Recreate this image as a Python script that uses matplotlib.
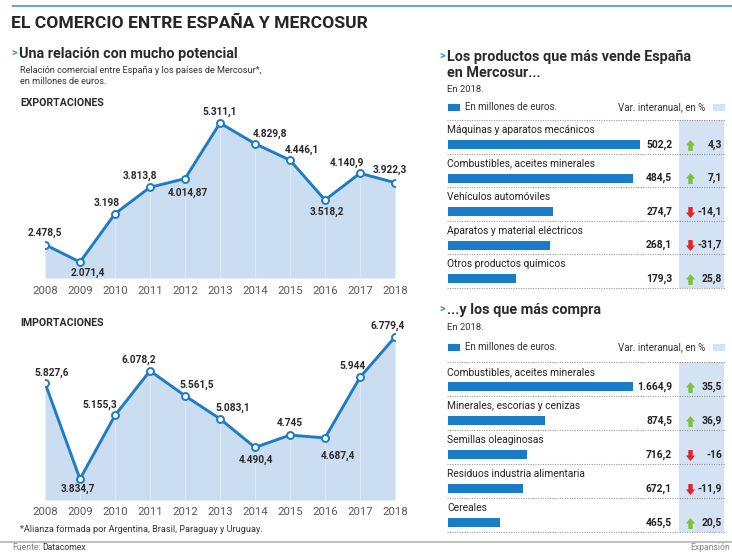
import matplotlib
matplotlib.use("Agg")
import matplotlib.pyplot as plt
from matplotlib import font_manager as fm
from matplotlib.font_manager import FontProperties
from matplotlib.textpath import TextToPath
from matplotlib.path import Path
from matplotlib.transforms import blended_transform_factory

# ---------------------------------------------------------------- data
years = [2008, 2009, 2010, 2011, 2012, 2013, 2014, 2015, 2016, 2017, 2018]
exportaciones = [2478.5, 2071.4, 3198, 3813.8, 4014.87, 5311.1, 4829.8,
                 4446.1, 3518.2, 4140.9, 3922.3]
importaciones = [5827.6, 3834.7, 5155.3, 6078.2, 5561.5, 5083.1, 4490.4,
                 4745, 4687.4, 5944, 6779.4]

vende_cats = ["Máquinas y aparatos mecánicos", "Combustibles, aceites minerales",
              "Vehículos automóviles", "Aparatos y material eléctricos",
              "Otros productos químicos"]
vende_vals = [502.2, 484.5, 274.7, 268.1, 179.3]
vende_var = [4.3, 7.1, -14.1, -31.7, 25.8]

compra_cats = ["Combustibles, aceites minerales", "Minerales, escorias y cenizas",
               "Semillas oleaginosas", "Residuos industria alimentaria", "Cereales"]
compra_vals = [1664.9, 874.5, 716.2, 672.1, 465.5]
compra_var = [35.5, 36.9, -16, -11.9, 20.5]

# ---------------------------------------------------------------- fonts
W, H = 732, 553
_names = {f.name for f in fm.fontManager.ttflist}
FAMILY = "Roboto" if "Roboto" in _names else "DejaVu Sans"
FONT = dict(family=[FAMILY, "DejaVu Sans"])
_t2p = TextToPath()


def width_px(s, size, weight="normal"):
    prop = FontProperties(family=FONT["family"], weight=weight, size=size)
    w, _, _ = _t2p.get_text_width_height_descent(s, prop, ismath=False)
    return w * 100 / 72


INK = "#222222"
LINE_BLUE = "#1f7cc2"
FILL_BLUE = "#cbddf1"
BAR_BLUE = "#1a7bc7"
HILITE = "#d3e3f4"
ACCENT = "#2b93dc"
UP_GREEN = "#7cc142"
DOWN_RED = "#e42228"

SZ_TITLE = 12.6
SZ_HEAD = 10.4
SZ_SUB = 6.6
SZ_SECTION = 7.6
SZ_POINT = 7.3
SZ_YEAR = 8.2
SZ_FOOT = 6.6
SZ_SRC = 6.2
SZ_CAT = 7.4
SZ_VAL = 7.4
SZ_LEG = 7.0
SZ_EN = 6.8


def es(v):
    """Spanish number format: '.' thousands, ',' decimals."""
    s = f"{v:,}"
    return s.replace(",", "#").replace(".", ",").replace("#", ".")


fig = plt.figure(figsize=(W / 100, H / 100), dpi=100)
fig.patch.set_facecolor("white")

canvas = fig.add_axes([0, 0, 1, 1])
canvas.set_xlim(0, W)
canvas.set_ylim(H, 0)
canvas.axis("off")


def px_axes(left, top, right, bottom):
    ax = fig.add_axes([left / W, 1 - bottom / H, (right - left) / W, (bottom - top) / H])
    ax.patch.set_alpha(0)
    for sp in ax.spines.values():
        sp.set_visible(False)
    return ax


def T(x, y, s, size=8, weight="normal", color=INK, ha="left", va="center", ax=None, **kw):
    (ax or canvas).text(x, y, s, fontsize=size, fontweight=weight, color=color,
                        ha=ha, va=va, **FONT, **kw)


# ---------------------------------------------------------------- header
canvas.plot([12, W], [6, 6], color="#5aa8e2", lw=1.4, solid_capstyle="butt")
T(11, 23, "EL COMERCIO ENTRE ESPAÑA Y MERCOSUR", size=SZ_TITLE, weight="bold", color="#262626")

T(17, 53, ">", size=SZ_HEAD * 0.75, weight="bold", color=ACCENT, ha="right")
T(19, 54, "Una relación con mucho potencial", size=SZ_HEAD, weight="bold", color="#2a2a2a")
T(20, 70, "Relación comercial entre España y los países de Mercosur*,", size=SZ_SUB, color="#333333")
T(20, 82, "en millones de euros.", size=SZ_SUB, color="#333333")


# ---------------------------------------------------------------- line charts
def line_chart(left, top, right, bottom, ylim, values, offsets, title, title_y, pad):
    T(20, title_y, title, size=SZ_SECTION, weight="bold", color="#2a2a2a")
    ax = px_axes(left, top, right, bottom)
    ax.set_xlim(years[0], years[-1])
    ax.set_ylim(*ylim)
    ax.fill_between(years, ylim[0], values, color=FILL_BLUE, lw=0, zorder=1)
    ax.vlines(years[1:-1], ylim[0], values[1:-1], color="white", lw=1.0, alpha=0.3, zorder=2)
    ax.plot(years, values, color=LINE_BLUE, lw=2.1, zorder=3)
    ax.plot(years, values, ls="none", marker="o", ms=5, mfc="white", mec=LINE_BLUE,
            mew=1.4, zorder=4)
    for x, v, (dx, dy) in zip(years, values, offsets):
        ax.annotate(es(v), (x, v), xytext=(dx, -dy), textcoords="offset pixels",
                    ha="center", va="center", fontsize=SZ_POINT, fontweight="bold",
                    color="#2a2a2a", zorder=5, **FONT)
    ax.set_xticks(years)
    ax.set_xticklabels([str(y) for y in years], fontsize=SZ_YEAR, color="#5a5a5a", **FONT)
    ax.tick_params(axis="x", length=0, pad=pad)
    ax.set_yticks([])
    return ax


exp_offsets = [(0, -12), (8, 11), (-8, -11), (-10, -11), (3, 14), (0, -11.5),
               (15, -10), (12, -10), (2, 12), (-13, -10.5), (-5, -13)]
imp_offsets = [(7, -10), (-2, 9.5), (-15, -11), (-11, -10.5), (12, -10.5), (13, -11),
               (1, 12), (0, -12), (13, 18), (-7, -11), (-7, -11)]

line_chart(45, 110, 395, 278, (1700, 5615), exportaciones, exp_offsets,
           "EXPORTACIONES", 103, 6.0)
line_chart(45, 320, 395, 500, (3400, 7132), importaciones, imp_offsets,
           "IMPORTACIONES", 323, 5.0)

T(20, 530, "*Alianza formada por Argentina, Brasil, Paraguay y Uruguay.", size=SZ_FOOT, color="#333333")

# ---------------------------------------------------------------- footer
canvas.plot([0, W], [541.5, 541.5], color="#bdbdbd", lw=1.4)
T(12, 548, "Fuente:", size=SZ_SRC, color="#808080")
T(12 + width_px("Fuente: ", SZ_SRC), 548, "Datacomex", size=SZ_SRC, color="#333333")
T(730, 548, "Expansión", size=SZ_SRC, color="#888888", ha="right")

# ---------------------------------------------------------------- arrows
UP = Path([(-0.4, -1), (0.4, -1), (0.4, 0.0), (0.85, 0.0), (0, 1),
           (-0.85, 0.0), (-0.4, 0.0), (-0.4, -1)],
          [Path.MOVETO] + [Path.LINETO] * 6 + [Path.CLOSEPOLY])
DOWN = Path([(x, -y) for x, y in UP.vertices], UP.codes)


# ---------------------------------------------------------------- bar panels
def bar_panel(top, bottom, px_per_unit, cats, vals, var, heading, heading_y, sub_y, legend_y):
    for i, line in enumerate(heading):
        if i == 0:
            T(445, heading_y - 1, ">", size=SZ_HEAD * 0.75, weight="bold", color=ACCENT, ha="right")
        T(447, heading_y + 16 * i, line, size=SZ_HEAD, weight="bold", color="#2a2a2a")
    T(447, sub_y, "En 2018.", size=SZ_EN, color="#333333")
    canvas.add_patch(plt.Rectangle((448, legend_y - 3.5), 12, 7, color=BAR_BLUE, lw=0))
    T(465, legend_y, "En millones de euros.", size=SZ_LEG, color="#333333")
    T(705, legend_y, "Var. interanual, en %", size=SZ_LEG, color="#333333", ha="right")
    canvas.add_patch(plt.Rectangle((713, legend_y - 3.5), 12, 7, color=HILITE, lw=0))

    left, right = 448, 725
    ax = px_axes(left, top, right, bottom)
    n = len(cats)
    ax.set_xlim(0, (right - left) / px_per_unit)
    ax.set_ylim(n, 0)
    ax.set_xticks([])
    ax.set_yticks([])
    tr = blended_transform_factory(ax.transAxes, ax.transData)
    ax.add_patch(plt.Rectangle((0.834, 0), 0.162, n, transform=tr, color=HILITE, lw=0, zorder=0))
    for k in range(n + 1):
        ax.plot([-0.004, 1.0], [k, k], transform=tr, color="#9a9a9a", lw=0.8,
                ls=(0, (1, 1.2)), zorder=1, clip_on=False)
    rows = [i + 0.73 for i in range(n)]
    ax.barh(rows, vals, height=0.27, left=0, color=BAR_BLUE, zorder=2)
    for i, (c, v, d) in enumerate(zip(cats, vals, var)):
        T(-0.003, i + 0.3, c, size=SZ_CAT, color="#222222", ax=ax, transform=tr)
        T(0.809, rows[i], es(v), size=SZ_VAL, weight="bold", color="#222222", ha="right",
          ax=ax, transform=tr)
        ax.scatter([0.874], [rows[i]], transform=tr, marker=UP if d > 0 else DOWN, s=62,
                   color=UP_GREEN if d > 0 else DOWN_RED, lw=0, zorder=3)
        T(0.99, rows[i], es(d), size=SZ_VAL, weight="bold", color="#222222", ha="right",
          ax=ax, transform=tr)
    return ax


bar_panel(120, 288, 0.382, vende_cats, vende_vals, vende_var,
          ["Los productos que más vende España", "en Mercosur..."], 57, 90, 107)
bar_panel(362, 532, 0.111, compra_cats, compra_vals, compra_var,
          ["...y los que más compra"], 310, 327, 347)

fig.savefig("out.png", dpi=100, facecolor="white")
